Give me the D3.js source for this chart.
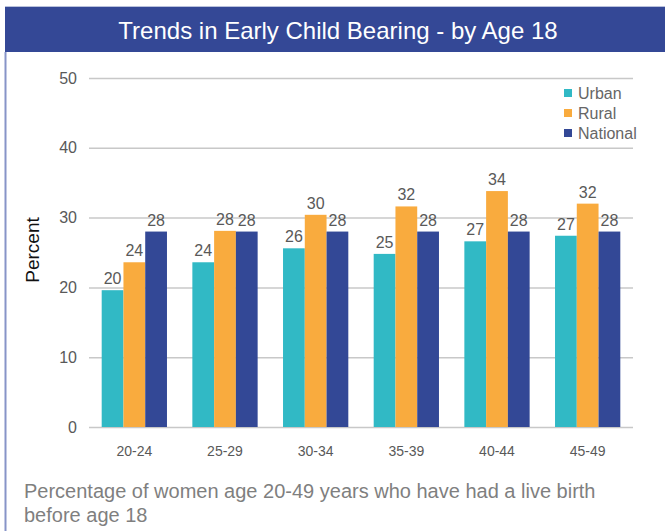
<!DOCTYPE html>
<html>
<head>
<meta charset="utf-8">
<script src="https://cdn.jsdelivr.net/npm/d3@7.9.0/dist/d3.min.js"></script>
<style>
  body { margin: 0; background: #fff; }
  svg { display: block; font-family: "Liberation Sans", Arial, sans-serif; }
</style>
</head>
<body>
<div id="chart"></div>
<script>
// age groups and series values (percent)
const ageGroups = ["20-24", "25-29", "30-34", "35-39", "40-44", "45-49"];
const seriesNames = ["Urban", "Rural", "National"];
const urban = [19.6, 23.6, 25.6, 24.8, 26.6, 27.4];
const rural = [23.6, 28.1, 30.4, 31.6, 33.8, 32.0];
const national = [28, 28, 28, 28, 28, 28];
const yTicks = [0, 10, 20, 30, 40, 50];
const colors = ["#31b9c5", "#f9ab3e", "#334896"];

const width = 665;
const height = 531;

// plot area
const area = { left: 89, right: 633, top: 78, bottom: 427 };

const svg = d3.select("#chart")
    .append("svg")
    .attr("width", width)
    .attr("height", height);

// header band and frame
svg.append("line")
    .attr("x1", 5).attr("x2", width)
    .attr("y1", 6.5).attr("y2", 6.5)
    .attr("stroke", "#b9c1dc");
svg.append("rect")
    .attr("x", 5).attr("y", 7)
    .attr("width", width - 5).attr("height", 45)
    .attr("fill", "#344896");
svg.append("line")
    .attr("x1", 5.5).attr("x2", 5.5)
    .attr("y1", 52).attr("y2", height)
    .attr("stroke", "#8794c8")
    .attr("stroke-width", 2);

svg.append("text")
    .attr("x", 338).attr("y", 39)
    .attr("text-anchor", "middle")
    .attr("fill", "#fff")
    .attr("font-size", 24)
    .text("Trends in Early Child Bearing - by Age 18");

// scales
const x0 = d3.scaleBand()
    .domain(ageGroups)
    .range([area.left, area.right])
    .paddingInner(0.28)
    .paddingOuter(0.14);

const x1 = d3.scaleBand()
    .domain(seriesNames)
    .range([0, x0.bandwidth()]);

const y = d3.scaleLinear()
    .domain([0, 50])
    .range([area.bottom, area.top]);

// gridlines
const yAxis = d3.axisLeft(y)
    .tickValues(yTicks)
    .tickSize(-(area.right - area.left))
    .tickPadding(12);

const gy = svg.append("g")
    .attr("transform", `translate(${area.left},0)`)
    .call(yAxis);
gy.select(".domain").remove();
gy.selectAll(".tick line").attr("stroke", "#c8c8c8").attr("stroke-width", 1.5);
gy.selectAll(".tick text")
    .attr("fill", "#595959")
    .attr("font-size", 16)
    .attr("font-family", "Liberation Sans, Arial, sans-serif");

// category axis
const xAxis = d3.axisBottom(x0).tickSize(0).tickPadding(19);
const gx = svg.append("g")
    .attr("transform", `translate(0,${area.bottom})`)
    .call(xAxis);
gx.select(".domain").remove();
gx.selectAll(".tick text")
    .attr("fill", "#595959")
    .attr("font-size", 14)
    .attr("font-family", "Liberation Sans, Arial, sans-serif");

// bars
const rows = ageGroups.map((g, i) => ({
    group: g,
    values: [urban[i], rural[i], national[i]]
}));

const groups = svg.selectAll(".grp")
    .data(rows)
    .enter()
    .append("g")
    .attr("transform", d => `translate(${x0(d.group)},0)`);

const bars = groups.selectAll("g.bar")
    .data(d => d.values.map((v, j) => ({ name: seriesNames[j], value: v, color: colors[j] })))
    .enter()
    .append("g");

bars.append("rect")
    .attr("x", d => x1(d.name))
    .attr("y", d => y(d.value))
    .attr("width", x1.bandwidth())
    .attr("height", d => area.bottom - y(d.value))
    .attr("fill", d => d.color);

bars.append("text")
    .attr("x", d => x1(d.name) + x1.bandwidth() / 2)
    .attr("y", d => y(d.value) - 6)
    .attr("text-anchor", "middle")
    .attr("fill", "#595959")
    .attr("font-size", 16)
    .text(d => Math.round(d.value));

// legend
const legend = svg.append("g").attr("transform", "translate(564,93)");
seriesNames.forEach((name, i) => {
    legend.append("rect")
        .attr("x", 0).attr("y", i * 20 - 4)
        .attr("width", 8).attr("height", 8)
        .attr("fill", colors[i]);
    legend.append("text")
        .attr("x", 14).attr("y", i * 20 + 6)
        .attr("fill", "#666")
        .attr("font-size", 16)
        .text(name);
});

// y label
svg.append("text")
    .attr("transform", "translate(39,250) rotate(-90)")
    .attr("text-anchor", "middle")
    .attr("fill", "#111")
    .attr("font-size", 19)
    .text("Percent");

// caption
const caption = ["Percentage of women age 20-49 years who have had a live birth", "before age 18"];
svg.append("text")
    .attr("x", 24).attr("y", 498)
    .attr("fill", "#7f7f7f")
    .attr("font-size", 20)
    .selectAll("tspan")
    .data(caption)
    .enter()
    .append("tspan")
    .attr("x", 24)
    .attr("dy", (d, i) => i === 0 ? 0 : 24)
    .text(d => d);
</script>
</body>
</html>
